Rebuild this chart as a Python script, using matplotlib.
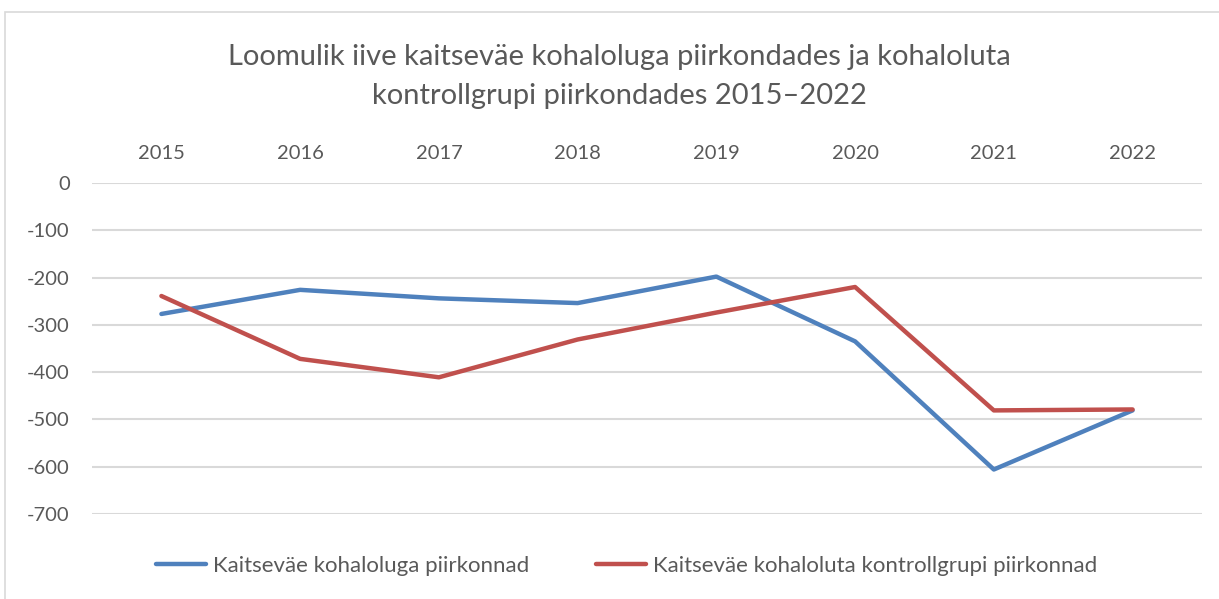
import matplotlib.pyplot as plt
from matplotlib.patches import Rectangle

years = ['2015', '2016', '2017', '2018', '2019', '2020', '2021', '2022']
with_forces = [-277, -226, -244, -254, -198, -335, -606, -481]
control_group = [-239, -372, -411, -331, -274, -220, -481, -479]

label_with = 'Kaitseväe kohaloluga piirkonnad'
label_control = 'Kaitseväe kohaloluta kontrollgrupi piirkonnad'
title = 'Loomulik iive kaitseväe kohaloluga piirkondades ja kohaloluta\nkontrollgrupi piirkondades 2015–2022'

text_col = '#595959'
plt.rcParams['font.family'] = ['Lato', 'DejaVu Sans']

fig = plt.figure(figsize=(12.19, 5.99), dpi=100)
ax = fig.add_axes([0.0755, 0.142, 0.9105, 0.5525])

x = range(len(years))
ax.plot(x, with_forces, color='#4F81BD', linewidth=3.2, solid_capstyle='round',
        solid_joinstyle='round', label=label_with, zorder=3)
ax.plot(x, control_group, color='#C0504D', linewidth=3.2, solid_capstyle='round',
        solid_joinstyle='round', label=label_control, zorder=3)

ax.set_xlim(-0.5, len(years) - 0.5)
ax.set_ylim(-700, 0)
ax.set_yticks(range(-700, 1, 100))
ax.set_yticklabels([str(v) for v in range(-700, 1, 100)])
ax.set_xticks(list(x))
ax.set_xticklabels(years)
ax.xaxis.tick_top()
ax.tick_params(axis='both', length=0, labelsize=14.5, colors=text_col)
ax.tick_params(axis='x', pad=15)
ax.tick_params(axis='y', pad=16)

ax.grid(axis='y', color='#D9D9D9', linewidth=1.5)
ax.set_axisbelow(True)
for s in ax.spines.values():
    s.set_visible(False)

fig.text(0.508, 0.872, title, ha='center', va='center', fontsize=21,
         color=text_col, linespacing=1.6)

leg = fig.legend(loc='center', bbox_to_anchor=(0.514, 0.055), ncol=2, frameon=False,
                 fontsize=16, handlelength=2.25, handletextpad=0.3, columnspacing=3.0)
for t in leg.get_texts():
    t.set_color(text_col)

# chart frame
fig.patches.append(Rectangle((5 / 1219, -0.1), 1.2, 1.1 - 12 / 599, transform=fig.transFigure,
                             fill=False, edgecolor='#D9D9D9', linewidth=1.2))

fig.savefig('out.png', dpi=100)
